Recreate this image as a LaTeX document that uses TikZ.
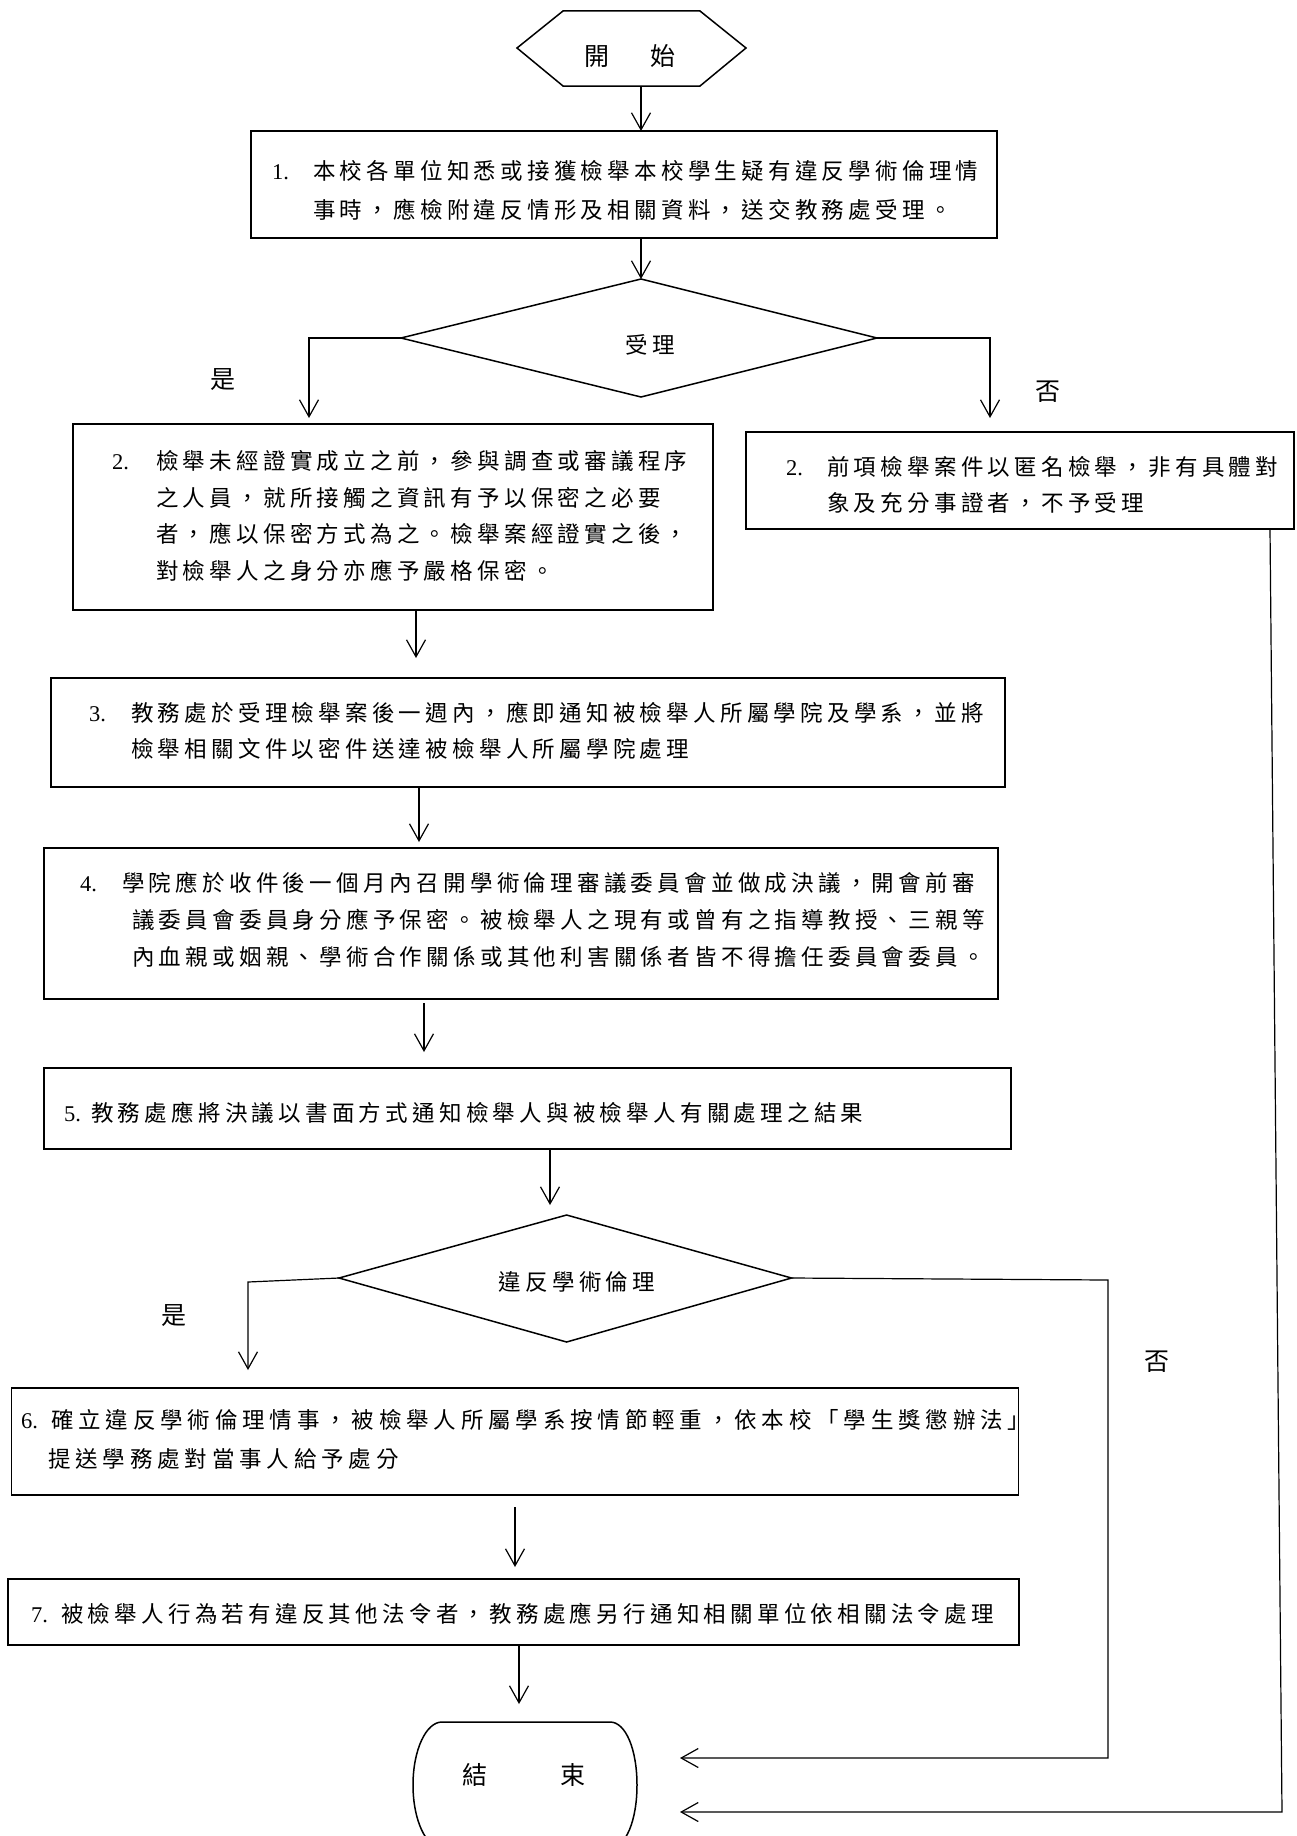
\documentclass[tikz,border=0pt]{standalone}
\usepackage{fontspec}
\setmainfont{Noto Sans CJK TC}
\newfontfamily\cjkspaced[LetterSpace=19]{Noto Sans CJK TC}
\newfontfamily\cjkwide[LetterSpace=21.5]{Noto Sans CJK TC}
\newfontfamily\latinf{Liberation Serif}
\usetikzlibrary{arrows.meta}
\newcommand\numlab[2][44pt]{\makebox[#1][l]{\latinf #2}}
\tikzset{
  box/.style={draw, line width=1.7pt, inner sep=0pt},
  txt/.style={inner sep=0pt, align=left, anchor=west},
  conn/.style={line width=1.2pt, -{Straight Barb[length=17pt,width=19pt]}},
  shapeline/.style={line width=1.5pt, line join=miter},
  lab/.style={inner sep=0pt, font=\fontsize{25}{30}\selectfont},
  dtext/.style={inner sep=0pt, font=\cjkspaced\fontsize{22.5}{30}\selectfont},
}
\newcommand\bodyfont[1]{\cjkspaced\fontsize{22.5}{#1}\selectfont}
\newcommand\widefont[1]{\cjkwide\fontsize{22.5}{#1}\selectfont}
\begin{document}
\begin{tikzpicture}[x=1pt,y=-1pt]
\useasboundingbox[fill=white] (0,0) rectangle (1297,1836);

% ---------- start hexagon ----------
\coordinate (sL) at (517,48);
\coordinate (sTL) at (563,11);
\coordinate (sTR) at (700,11);
\coordinate (sR) at (746,48);
\coordinate (sBR) at (700,86);
\coordinate (sBL) at (563,86);
\draw[shapeline] (sL) -- (sTL) -- (sTR) -- (sR) -- (sBR) -- (sBL) -- cycle;
\node[lab] (start) at (630,56) {開\hspace{41pt}始};
\coordinate (sOut) at (641,86);

% ---------- box 1 ----------
\node[box, minimum width=746pt, minimum height=107pt] (b1) at (624,184.5) {};
\node[txt, font=\bodyfont{39}] (t1) at (272,190)
  {\numlab[41pt]{1.}本校各單位知悉或接獲檢舉本校學生疑有違反學術倫理情\\
   \numlab[41pt]{}事時，應檢附違反情形及相關資料，送交教務處受理。};
\coordinate (b1in) at (641,131);
\coordinate (b1out) at (641,238);

% ---------- decision 1 ----------
\coordinate (d1T) at (641,279);
\coordinate (d1L) at (401,338);
\coordinate (d1R) at (877,338);
\coordinate (d1B) at (641,397);
\draw[shapeline] (d1T) -- (d1R) -- (d1B) -- (d1L) -- cycle;
\node[dtext] (d1) at (650,345) {受理};
\coordinate (y1c) at (309,338);
\coordinate (y1e) at (309,418);
\coordinate (n1c) at (990,338);
\coordinate (n1e) at (990,418);
\node[lab] (yes1) at (223,380) {是};
\node[lab] (no1) at (1048,392) {否};

% ---------- box 2 left ----------
\node[box, minimum width=640pt, minimum height=186pt] (b2L) at (393,517) {};
\node[txt, font=\bodyfont{36.5}] (t2L) at (112,516)
  {\numlab{2.}檢舉未經證實成立之前，參與調查或審議程序\\
   \numlab{}之人員，就所接觸之資訊有予以保密之必要\\
   \numlab{}者，應以保密方式為之。檢舉案經證實之後，\\
   \numlab{}對檢舉人之身分亦應予嚴格保密。};
\coordinate (b2Lout) at (416,610);
\coordinate (b3e) at (416,658);

% ---------- box 2 right ----------
\node[box, minimum width=548pt, minimum height=97pt] (b2R) at (1020,480.5) {};
\node[txt, font=\bodyfont{36}] (t2R) at (786,484.5)
  {\numlab[41pt]{2.}前項檢舉案件以匿名檢舉，非有具體對\\
   \numlab[41pt]{}象及充分事證者，不予受理};
\coordinate (b2Rout) at (1270,529);
\coordinate (rc) at (1282,1812);
\coordinate (rEnd) at (680,1812);

% ---------- box 3 ----------
\node[box, minimum width=954pt, minimum height=109pt] (b3) at (528,732.5) {};
\node[txt, font=\bodyfont{36}] (t3) at (89,730.5)
  {\numlab[42pt]{3.}教務處於受理檢舉案後一週內，應即通知被檢舉人所屬學院及學系，並將\\
   \numlab[42pt]{}檢舉相關文件以密件送達被檢舉人所屬學院處理};
\coordinate (b3out) at (419,787);
\coordinate (b4e) at (419,842);

% ---------- box 4 ----------
\node[box, minimum width=954pt, minimum height=151pt] (b4) at (521,923.5) {};
\node[txt, font=\bodyfont{37}] (t4) at (80,920)
  {\numlab[42pt]{4.}學院應於收件後一個月內召開學術倫理審議委員會並做成決議，開會前審\\
   \numlab[52pt]{}議委員會委員身分應予保密。被檢舉人之現有或曾有之指導教授、三親等\\
   \numlab[52pt]{}內血親或姻親、學術合作關係或其他利害關係者皆不得擔任委員會委員。};
\coordinate (b4out) at (424,1003);
\coordinate (b5e) at (424,1052);

% ---------- box 5 ----------
\node[box, minimum width=967pt, minimum height=81pt] (b5) at (527.5,1108.5) {};
\node[txt, font=\bodyfont{36}] (t5) at (64,1113)
  {\numlab[27pt]{5.}教務處應將決議以書面方式通知檢舉人與被檢舉人有關處理之結果};
\coordinate (b5out) at (550,1149);
\coordinate (d2e) at (550,1205);

% ---------- decision 2 ----------
\coordinate (d2T) at (566.6,1215);
\coordinate (d2L) at (339,1278);
\coordinate (d2R) at (791.5,1278);
\coordinate (d2B) at (566.6,1342);
\draw[shapeline] (d2T) -- (d2R) -- (d2B) -- (d2L) -- cycle;
\node[dtext] (d2) at (577,1282) {違反學術倫理};
\coordinate (y2c) at (248,1282);
\coordinate (y2e) at (248,1370);
\coordinate (n2c) at (1108,1280);
\coordinate (n2d) at (1108,1758);
\coordinate (n2e) at (680,1758);
\node[lab] (yes2) at (174,1316) {是};
\node[lab] (no2) at (1157,1362) {否};

% ---------- box 6 ----------
\node[box, minimum width=1007pt, minimum height=107pt] (b6) at (515,1441.5) {};
\node[txt, font=\widefont{39}] (t6) at (21,1439.5)
  {\numlab[30pt]{6.}確立違反學術倫理情事，被檢舉人所屬學系按情節輕重，依本校「學生獎懲辦法」\\
   \numlab[27pt]{}提送學務處對當事人給予處分};
\coordinate (b6out) at (515,1507);
\coordinate (b7e) at (515,1567);

% ---------- box 7 ----------
\node[box, minimum width=1011pt, minimum height=66pt] (b7) at (513.5,1612) {};
\node[txt, font=\bodyfont{36}] (t7) at (31,1614)
  {\numlab[30pt]{7.}被檢舉人行為若有違反其他法令者，教務處應另行通知相關單位依相關法令處理};
\coordinate (b7out) at (519,1645);
\coordinate (ende) at (519,1704);

% ---------- end shape ----------
\draw[shapeline] (442,1722) -- (610,1722)
  .. controls (626,1722) and (637,1750) .. (637,1785)
  .. controls (637,1820) and (626,1848) .. (610,1848)
  -- (442,1848)
  .. controls (426,1848) and (413,1820) .. (413,1785)
  .. controls (413,1750) and (426,1722) .. (442,1722) -- cycle;
\node[lab] (finish) at (524,1775) {結\hspace{73pt}束};

% ---------- connectors ----------
\draw[conn] (sOut) -- (b1in);
\draw[conn] (b1out) -- (d1T);
\draw[conn] (d1L) -- (y1c) -- (y1e);
\draw[conn] (d1R) -- (n1c) -- (n1e);
\draw[conn] (b2Lout) -- (b3e);
\draw[conn] (b3out) -- (b4e);
\draw[conn] (b4out) -- (b5e);
\draw[conn] (b5out) -- (d2e);
\draw[conn] (d2L) -- (y2c) -- (y2e);
\draw[conn] (b6out) -- (b7e);
\draw[conn] (b7out) -- (ende);
\draw[conn] (d2R) -- (n2c) -- (n2d) -- (n2e);
\draw[conn] (b2Rout) -- (rc) -- (rEnd);
\end{tikzpicture}
\end{document}
